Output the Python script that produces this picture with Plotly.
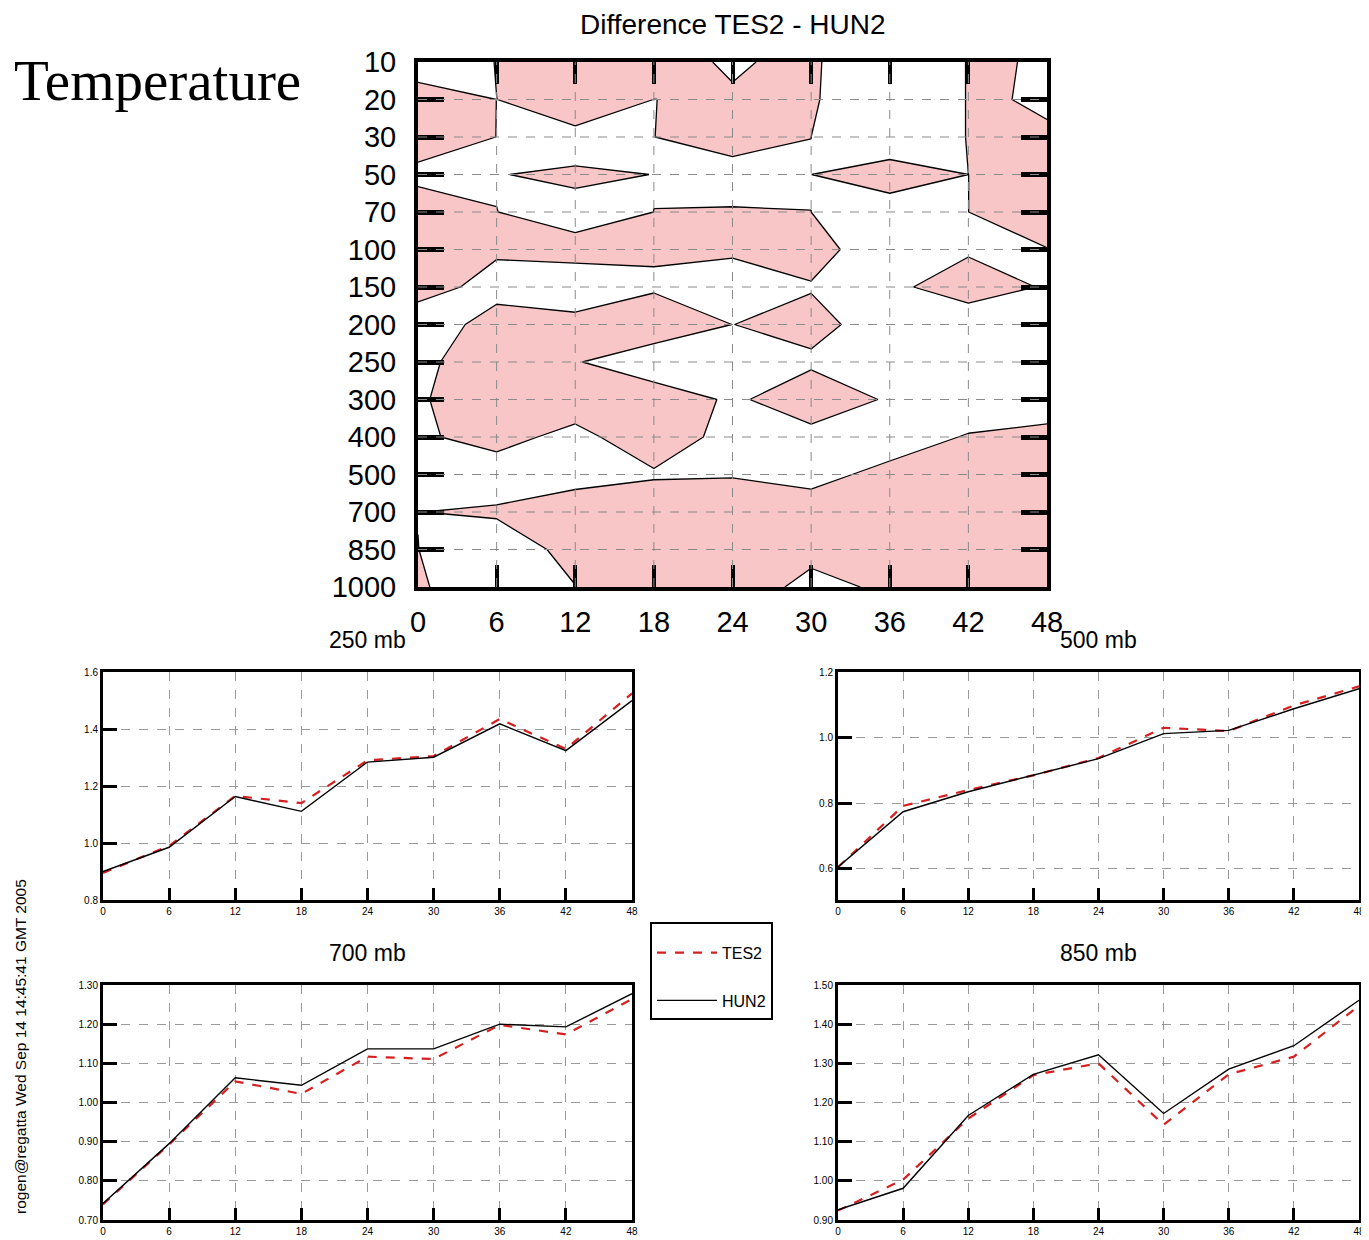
import plotly.graph_objects as go

# ---------------- data ----------------
hours = [0, 6, 12, 18, 24, 30, 36, 42, 48]
levels = ["10", "20", "30", "50", "70", "100", "150", "200", "250",
          "300", "400", "500", "700", "850", "1000"]

# Difference TES2 - HUN2 (one list per pressure level, values at hours 0..48)
d10 = [-3, 0.1, 1, 0.8, -0.27, 0.63, -4, 0.15, -0.09]
d20 = [2.55, -0.01, 1.17, -0.01, 0.23, 0.5, -4, 0.15, -0.12]
d30 = [1, -0.01, -0.5, -0.01, 0.6, 0.001, -4, 0.15, 0.106]
d50 = [-0.49, -0.03, 0.15, -0.01, -0.55, -0.02, 2.67, -0.001, 0.3]
d70 = [1.04, 0.005, -0.255, 0.001, 0.09, 0.001, -2.67, -0.001, 0.3]
d100 = [1, 0.126, 0.21, 0.085, 0.1, 0.2, -0.34, -0.075, -0.016]
d150 = [0.4, -0.34, -0.37, -0.1, -0.335, -0.038, -0.13, 0.3, -0.053]
d200 = [-0.6, 0.4, 0.18, 0.525, -0.005, 0.186, -0.3, -0.4, -0.4]
d250 = [-0.2, 0.5, 0.05, -0.5, -0.4, -0.1, -0.3, -0.5, -0.4]
d300 = [-0.1, 0.57, 0.3, 0.43, -0.107, 0.38, -0.067, -0.9, -0.3]
d400 = [-0.071, 0.173, -0.16, 0.34, -0.2, -0.2, -0.67, 0.1, 0.16]
d500 = [-0.3, -0.26, -0.2, -0.065, -0.05, -0.41, 0.377, 0.4, 0.4]
d700 = [-0.005, 0.061, 0.3, 0.4, 0.5, 0.64, 0.5, 0.4, 0.4]
d850 = [0.0033, -0.278, 0.156, 0.5, 0.6, 0.3, 0.4, 0.4, 0.4]
d1000 = [0.053, -0.3, -0.01, 0.5, 0.6, -0.3, 0.18, 0.4, 0.4]

# RMS time series at four levels
tes2_250 = [0.895, 0.99, 1.165, 1.14, 1.29, 1.305, 1.435, 1.33, 1.525]
hun2_250 = [0.90, 0.985, 1.163, 1.111, 1.284, 1.301, 1.418, 1.324, 1.50]
tes2_500 = [0.605, 0.792, 0.84, 0.885, 0.938, 1.03, 1.02, 1.098, 1.156]
hun2_500 = [0.606, 0.774, 0.835, 0.885, 0.936, 1.012, 1.022, 1.088, 1.149]
tes2_700 = [0.74, 0.893, 1.054, 1.022, 1.117, 1.111, 1.198, 1.174, 1.264]
hun2_700 = [0.742, 0.895, 1.063, 1.044, 1.137, 1.137, 1.20, 1.193, 1.278]
tes2_850 = [0.924, 1.003, 1.159, 1.27, 1.30, 1.143, 1.272, 1.317, 1.447]
hun2_850 = [0.926, 0.981, 1.167, 1.272, 1.322, 1.172, 1.285, 1.345, 1.461]

# ---------------- figure ----------------
W, H = 1369, 1240
OFF = 8  # page body margin of the html page
PINK = "#f8c6c6"
FONT = "Liberation Sans"

def px_x(p):
    return (p - OFF) / W

def px_y(p):
    return 1 - (p - OFF) / H

z = [d10, d20, d30, d50, d70, d100, d150, d200, d250, d300,
     d400, d500, d700, d850, d1000]

fig = go.Figure()
fig.add_trace(go.Contour(
    x=hours, y=list(range(len(levels))), z=z,
    xaxis="x", yaxis="y",
    autocontour=False,
    contours=dict(start=0, end=0, size=1, coloring="fill", showlines=True,
                  showlabels=False),
    colorscale=[[0, "white"], [1, PINK]],
    showscale=False,
    line=dict(color="black", width=1.3, smoothing=0),
    hoverinfo="skip", showlegend=False,
))

panels = [
    ("250 mb", tes2_250, hun2_250, 2, (103, 632), (672, 900), [0.8, 1.6],
     [0.8, 1.0, 1.2, 1.4, 1.6], ".1f"),
    ("500 mb", tes2_500, hun2_500, 3, (838, 1359), (672, 900), [0.505, 1.2],
     [0.6, 0.8, 1.0, 1.2], ".1f"),
    ("700 mb", tes2_700, hun2_700, 4, (103, 632), (985, 1220), [0.70, 1.30],
     [0.7, 0.8, 0.9, 1.0, 1.1, 1.2, 1.3], ".2f"),
    ("850 mb", tes2_850, hun2_850, 5, (838, 1359), (985, 1220), [0.90, 1.50],
     [0.9, 1.0, 1.1, 1.2, 1.3, 1.4, 1.5], ".2f"),
]

annotations = []
layout_axes = {}
for k, (title, tes, hun, n, (xl, xr), (yt, yb), yr, ytv, yfmt) in enumerate(panels):
    fig.add_trace(go.Scatter(
        x=hours, y=tes, mode="lines", name="TES2",
        line=dict(color="#d62020", width=2.2, dash="dash"),
        xaxis=f"x{n}", yaxis=f"y{n}", showlegend=(k == 0), legendgroup="tes",
    ))
    fig.add_trace(go.Scatter(
        x=hours, y=hun, mode="lines", name="HUN2",
        line=dict(color="black", width=1.4),
        xaxis=f"x{n}", yaxis=f"y{n}", showlegend=(k == 0), legendgroup="hun",
    ))
    layout_axes[f"xaxis{n}"] = dict(
        domain=[px_x(xl), px_x(xr)], anchor=f"y{n}", range=[0, 48],
        tickvals=hours, ticks="inside", ticklen=12, tickwidth=3,
        tickcolor="black", showline=True, mirror=True, linewidth=3,
        linecolor="black", showgrid=True, gridcolor="#9a9a9a",
        griddash="dash", gridwidth=1, zeroline=False, automargin=False,
        tickfont=dict(size=10, family=FONT, color="black"),
    )
    layout_axes[f"yaxis{n}"] = dict(
        domain=[px_y(yb), px_y(yt)], anchor=f"x{n}", range=yr,
        tickvals=ytv, tickformat=yfmt, ticks="inside", ticklen=14,
        tickwidth=3, tickcolor="black", showline=True, mirror=True,
        linewidth=3, linecolor="black", showgrid=True, gridcolor="#9a9a9a",
        griddash="dash", gridwidth=1, zeroline=False, automargin=False,
        tickfont=dict(size=10, family=FONT, color="black"),
    )
    annotations.append(dict(
        text=title, x=px_x((xl + xr) / 2), y=px_y(yt - 32), xref="paper",
        yref="paper", showarrow=False, xanchor="center", yanchor="middle",
        font=dict(size=23, family=FONT, color="black"),
    ))

annotations += [
    dict(text="Difference TES2 - HUN2", x=px_x(733), y=px_y(24),
         xref="paper", yref="paper", showarrow=False, yanchor="middle",
         font=dict(size=28, family=FONT, color="black")),
    dict(text="Temperature", x=px_x(12), y=px_y(80), xref="paper",
         yref="paper", showarrow=False, xanchor="left", yanchor="middle",
         font=dict(size=57, family="Liberation Serif", color="black")),
    dict(text="rogen@regatta Wed Sep 14 14:45:41 GMT 2005", x=px_x(20),
         y=px_y(1047), xref="paper", yref="paper", showarrow=False,
         textangle=-90, xanchor="center", yanchor="middle",
         font=dict(size=15.5, family=FONT, color="black")),
]

shapes = []
for h in hours[1:-1]:
    shapes.append(dict(type="line", xref="x", yref="y domain", x0=h, x1=h,
                       y0=0, y1=1, layer="above",
                       line=dict(color="#8a8a8a", width=1, dash="dash")))
for i in range(1, len(levels) - 1):
    shapes.append(dict(type="line", xref="x domain", yref="y", x0=0, x1=1,
                       y0=i, y1=i, layer="above",
                       line=dict(color="#8a8a8a", width=1, dash="dash")))

fig.update_layout(
    width=W, height=H, margin=dict(l=0, r=0, t=0, b=0, pad=0),
    paper_bgcolor="white", plot_bgcolor="white",
    font=dict(family=FONT, color="black"),
    xaxis=dict(domain=[px_x(418), px_x(1047)], anchor="y", range=[0, 48],
               tickvals=hours, ticks="inside", ticklen=22, tickwidth=4,
               tickcolor="black", showline=True, mirror="allticks",
               linewidth=4, linecolor="black", showgrid=False,
               zeroline=False, layer="above traces", automargin=False,
               ticklabelstandoff=6,
               tickfont=dict(size=29, family=FONT, color="black")),
    yaxis=dict(domain=[px_y(587), px_y(62)], anchor="x",
               range=[len(levels) - 1, 0],
               tickvals=list(range(len(levels))), ticktext=levels,
               ticks="inside", ticklen=26, tickwidth=5, tickcolor="black",
               showline=True, mirror="allticks", linewidth=4,
               linecolor="black", showgrid=False, zeroline=False,
               layer="above traces", automargin=False, ticklabelstandoff=12,
               tickfont=dict(size=29, family=FONT, color="black")),
    legend=dict(x=px_x(650), y=px_y(922), xanchor="left", yanchor="top",
                bgcolor="white", bordercolor="black", borderwidth=2,
                font=dict(size=16, family=FONT, color="black"),
                title=dict(text=" ", font=dict(size=9)),
                itemwidth=60, tracegroupgap=24),
    annotations=annotations,
    shapes=shapes,
    **layout_axes,
)

fig.write_html("out.html")
